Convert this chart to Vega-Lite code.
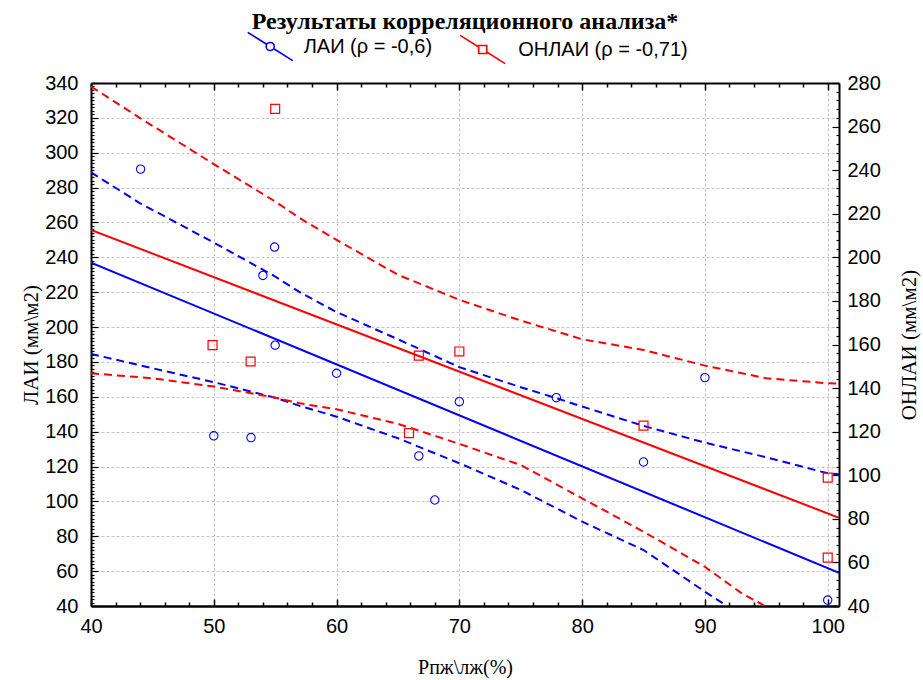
{
  "$schema": "https://vega.github.io/schema/vega-lite/v6.json",
  "width": 748,
  "height": 523,
  "autosize": {"type": "none"},
  "padding": {"left": 91, "top": 83, "right": 84, "bottom": 74},
  "background": "white",
  "title": {"text": "Результаты корреляционного анализа*", "font": "Liberation Serif", "fontSize": 24, "fontWeight": "bold", "anchor": "middle", "frame": "group", "baseline": "alphabetic", "offset": -30, "color": "black"},
  "config": {"view": {"stroke": null}},
  "datasets": {
    "lai_pts": [
      {"x": 44.04, "y": 290.6, "series": "ЛАИ (ρ = -0,6)"},
      {"x": 54.95, "y": 245.9, "series": "ЛАИ (ρ = -0,6)"},
      {"x": 54.0, "y": 229.6, "series": "ЛАИ (ρ = -0,6)"},
      {"x": 55.0, "y": 189.6, "series": "ЛАИ (ρ = -0,6)"},
      {"x": 50.0, "y": 137.6, "series": "ЛАИ (ρ = -0,6)"},
      {"x": 53.03, "y": 136.6, "series": "ЛАИ (ρ = -0,6)"},
      {"x": 60.0, "y": 173.5, "series": "ЛАИ (ρ = -0,6)"},
      {"x": 70.0, "y": 157.2, "series": "ЛАИ (ρ = -0,6)"},
      {"x": 66.7, "y": 126.1, "series": "ЛАИ (ρ = -0,6)"},
      {"x": 68.0, "y": 100.8, "series": "ЛАИ (ρ = -0,6)"},
      {"x": 77.9, "y": 159.5, "series": "ЛАИ (ρ = -0,6)"},
      {"x": 85.0, "y": 122.6, "series": "ЛАИ (ρ = -0,6)"},
      {"x": 90.0, "y": 171.0, "series": "ЛАИ (ρ = -0,6)"},
      {"x": 100.0, "y": 43.4, "series": "ЛАИ (ρ = -0,6)"}
    ],
    "lai_fit": [{"x": 40, "y": 237}, {"x": 100.92, "y": 59}],
    "lai_upper": [
      {"x": 40, "y": 288.7}, {"x": 44, "y": 271}, {"x": 50, "y": 248.5}, {"x": 55, "y": 229},
      {"x": 57, "y": 220}, {"x": 60, "y": 208.6}, {"x": 65, "y": 193}, {"x": 70, "y": 177},
      {"x": 75, "y": 165.5}, {"x": 78, "y": 159}, {"x": 80, "y": 154.4}, {"x": 85, "y": 143.3},
      {"x": 90, "y": 133.7}, {"x": 95, "y": 125.3}, {"x": 100, "y": 116.1}, {"x": 100.92, "y": 115.6}
    ],
    "lai_lower": [
      {"x": 40, "y": 184.6}, {"x": 45, "y": 176.4}, {"x": 50, "y": 168.4}, {"x": 55, "y": 159.5},
      {"x": 57, "y": 154.8}, {"x": 60, "y": 148.6}, {"x": 65, "y": 136.2}, {"x": 70, "y": 121.9},
      {"x": 75, "y": 106.6}, {"x": 80, "y": 88.4}, {"x": 85, "y": 72.1}, {"x": 90, "y": 48.2},
      {"x": 91.8, "y": 40}
    ],
    "onlai_pts": [
      {"x": 55.0, "y": 268.1, "series": "ОНЛАИ (ρ = -0,71)"},
      {"x": 49.9, "y": 159.7, "series": "ОНЛАИ (ρ = -0,71)"},
      {"x": 53.0, "y": 152.2, "series": "ОНЛАИ (ρ = -0,71)"},
      {"x": 66.7, "y": 154.9, "series": "ОНЛАИ (ρ = -0,71)"},
      {"x": 70.0, "y": 156.8, "series": "ОНЛАИ (ρ = -0,71)"},
      {"x": 65.9, "y": 119.3, "series": "ОНЛАИ (ρ = -0,71)"},
      {"x": 85.0, "y": 122.8, "series": "ОНЛАИ (ρ = -0,71)"},
      {"x": 100.0, "y": 98.9, "series": "ОНЛАИ (ρ = -0,71)"},
      {"x": 100.0, "y": 62.2, "series": "ОНЛАИ (ρ = -0,71)"}
    ],
    "onlai_fit": [{"x": 40, "y": 212.6}, {"x": 100.92, "y": 80.5}],
    "onlai_upper": [
      {"x": 40, "y": 278.4}, {"x": 44, "y": 263.9}, {"x": 50, "y": 242.8}, {"x": 55, "y": 225.6},
      {"x": 57, "y": 218}, {"x": 60, "y": 208}, {"x": 65, "y": 192}, {"x": 70, "y": 180.5},
      {"x": 75, "y": 171}, {"x": 80, "y": 162.4}, {"x": 85, "y": 157.5}, {"x": 90, "y": 150.3},
      {"x": 95, "y": 144.5}, {"x": 100, "y": 142.2}, {"x": 100.92, "y": 142}
    ],
    "onlai_lower": [
      {"x": 40, "y": 146.8}, {"x": 45, "y": 144.5}, {"x": 50, "y": 140.7}, {"x": 55, "y": 135.6},
      {"x": 57, "y": 133}, {"x": 60, "y": 130.3}, {"x": 65, "y": 123.6}, {"x": 70, "y": 114.4},
      {"x": 75, "y": 104.7}, {"x": 80, "y": 89.4}, {"x": 85, "y": 74.1}, {"x": 90, "y": 58},
      {"x": 93, "y": 45.8}, {"x": 94.9, "y": 40}
    ]
  },
  "layer": [
    {
      "encoding": {
        "x": {
          "field": "x", "type": "quantitative",
          "scale": {"domain": [40, 100.92], "nice": false, "zero": false},
          "title": "Рпж\\лж(%)",
          "axis": {
            "orient": "bottom",
            "values": [40,42,44,46,48,50,52,54,56,58,60,62,64,66,68,70,72,74,76,78,80,82,84,86,88,90,92,94,96,98,100],
            "labelExpr": "datum.value % 10 === 0 ? datum.label : ''",
            "labelFont": "Liberation Sans", "labelFontSize": 20, "labelColor": "black",
            "labelPadding": 17, "labelFlush": false, "labelOverlap": false,
            "tickSize": {"condition": {"test": "datum.value % 10 === 0", "value": -7}, "value": -4},
            "tickColor": "black", "tickWidth": 1.5,
            "domainColor": "black", "domainWidth": 2.5,
            "grid": true, "gridColor": "#c4c4c4", "gridDash": [3, 2], "gridWidth": 1,
            "gridOpacity": {"condition": {"test": "datum.value % 10 === 0", "value": 1}, "value": 0},
            "titleFont": "Liberation Serif", "titleFontSize": 20, "titleFontWeight": "normal", "titleColor": "black", "titlePadding": 18
          }
        },
        "y": {
          "field": "y", "type": "quantitative",
          "scale": {"domain": [40, 340], "nice": false, "zero": false},
          "title": "ЛАИ (мм\\м2)",
          "axis": {
            "orient": "left",
            "values": [40,42,44,46,48,50,52,54,56,58,60,62,64,66,68,70,72,74,76,78,80,82,84,86,88,90,92,94,96,98,100,102,104,106,108,110,112,114,116,118,120,122,124,126,128,130,132,134,136,138,140,142,144,146,148,150,152,154,156,158,160,162,164,166,168,170,172,174,176,178,180,182,184,186,188,190,192,194,196,198,200,202,204,206,208,210,212,214,216,218,220,222,224,226,228,230,232,234,236,238,240,242,244,246,248,250,252,254,256,258,260,262,264,266,268,270,272,274,276,278,280,282,284,286,288,290,292,294,296,298,300,302,304,306,308,310,312,314,316,318,320,322,324,326,328,330,332,334,336,338,340],
            "labelExpr": "datum.value % 20 === 0 ? datum.label : ''",
            "labelFont": "Liberation Sans", "labelFontSize": 20, "labelColor": "black",
            "labelPadding": 20, "labelFlush": false, "labelOverlap": false,
            "tickSize": {"condition": {"test": "datum.value % 20 === 0", "value": -7}, "value": -3},
            "tickColor": "black", "tickWidth": 1.2,
            "domainColor": "black", "domainWidth": 2,
            "grid": true, "gridColor": "#c4c4c4", "gridDash": [3, 2], "gridWidth": 1,
            "gridOpacity": {"condition": {"test": "datum.value % 20 === 0", "value": 1}, "value": 0},
            "titleFont": "Liberation Serif", "titleFontSize": 21, "titleFontWeight": "normal", "titleColor": "black", "titlePadding": 3
          }
        }
      },
      "layer": [
        {"data": {"name": "lai_upper"}, "mark": {"type": "line", "color": "#0000ff", "strokeWidth": 2, "strokeDash": [8, 5], "clip": true}},
        {"data": {"name": "lai_lower"}, "mark": {"type": "line", "color": "#0000ff", "strokeWidth": 2, "strokeDash": [8, 5], "clip": true}},
        {"data": {"name": "lai_fit"}, "mark": {"type": "line", "color": "#0000ff", "strokeWidth": 2, "clip": true}},
        {
          "data": {"name": "lai_pts"},
          "mark": {"type": "point", "shape": "circle", "size": 70, "strokeWidth": 1.1, "filled": false, "opacity": 1},
          "encoding": {
            "stroke": {
              "field": "series", "type": "nominal",
              "scale": {"domain": ["ЛАИ (ρ = -0,6)"], "range": ["#0000ff"]},
              "legend": {
                "orient": "none", "direction": "horizontal", "legendX": 155.7, "legendY": -60,
                "title": null, "labelFont": "Liberation Sans", "labelFontSize": 20, "labelColor": "black", "labelLimit": 400,
                "symbolSize": 2025, "symbolStrokeWidth": 1.6, "symbolFillColor": "white", "labelOffset": 10,
                "symbolType": "M-1,-0.63L-0.18,-0.113M0.18,0.113L1,0.63M-0.18,0A0.18,0.18 0 1,1 0.18,0A0.18,0.18 0 1,1 -0.18,0Z"
              }
            }
          }
        }
      ]
    },
    {
      "encoding": {
        "x": {
          "field": "x", "type": "quantitative",
          "scale": {"domain": [40, 100.92], "nice": false, "zero": false},
          "title": null,
          "axis": {
            "orient": "top",
            "values": [40,42,44,46,48,50,52,54,56,58,60,62,64,66,68,70,72,74,76,78,80,82,84,86,88,90,92,94,96,98,100],
            "labels": false,
            "tickSize": {"condition": {"test": "datum.value % 10 === 0", "value": -7}, "value": -4},
            "tickColor": "black", "tickWidth": 1.5,
            "domainColor": "black", "domainWidth": 2,
            "grid": false, "title": null
          }
        },
        "y": {
          "field": "y", "type": "quantitative",
          "scale": {"domain": [40, 280], "nice": false, "zero": false},
          "title": "ОНЛАИ (мм\\м2)",
          "axis": {
            "orient": "right",
            "values": [40,44,48,52,56,60,64,68,72,76,80,84,88,92,96,100,104,108,112,116,120,124,128,132,136,140,144,148,152,156,160,164,168,172,176,180,184,188,192,196,200,204,208,212,216,220,224,228,232,236,240,244,248,252,256,260,264,268,272,276,280],
            "labelExpr": "datum.value % 20 === 0 ? datum.label : ''",
            "labelFont": "Liberation Sans", "labelFontSize": 20, "labelColor": "black",
            "labelPadding": 15, "labelFlush": false, "labelOverlap": false,
            "tickSize": {"condition": {"test": "datum.value % 20 === 0", "value": -7}, "value": -3},
            "tickColor": "black", "tickWidth": 1.2,
            "domainColor": "black", "domainWidth": 2,
            "grid": false,
            "titleFont": "Liberation Serif", "titleFontSize": 21, "titleFontWeight": "normal", "titleColor": "black", "titlePadding": 39, "titleAngle": 270
          }
        }
      },
      "layer": [
        {"data": {"name": "onlai_upper"}, "mark": {"type": "line", "color": "#ff0000", "strokeWidth": 2, "strokeDash": [8, 5], "clip": true}},
        {"data": {"name": "onlai_lower"}, "mark": {"type": "line", "color": "#ff0000", "strokeWidth": 2, "strokeDash": [8, 5], "clip": true}},
        {"data": {"name": "onlai_fit"}, "mark": {"type": "line", "color": "#ff0000", "strokeWidth": 2, "clip": true}},
        {
          "data": {"name": "onlai_pts"},
          "mark": {"type": "point", "shape": "square", "size": 80, "strokeWidth": 1.2, "filled": false, "opacity": 1},
          "encoding": {
            "color": {
              "field": "series", "type": "nominal",
              "scale": {"domain": ["ОНЛАИ (ρ = -0,71)"], "range": ["#ff0000"]},
              "legend": {
                "orient": "none", "direction": "horizontal", "legendX": 368.2, "legendY": -57,
                "title": null, "labelFont": "Liberation Sans", "labelFontSize": 20, "labelColor": "black", "labelLimit": 400,
                "symbolSize": 2025, "symbolStrokeWidth": 1.6, "symbolFillColor": "white", "labelOffset": 12,
                "symbolType": "M-1,-0.63L-0.18,-0.113M0.18,0.113L1,0.63M-0.18,-0.18L0.18,-0.18L0.18,0.18L-0.18,0.18Z"
              }
            }
          }
        }
      ]
    }
  ],
  "resolve": {"scale": {"y": "independent"}, "axis": {"x": "independent", "y": "independent"}}
}
